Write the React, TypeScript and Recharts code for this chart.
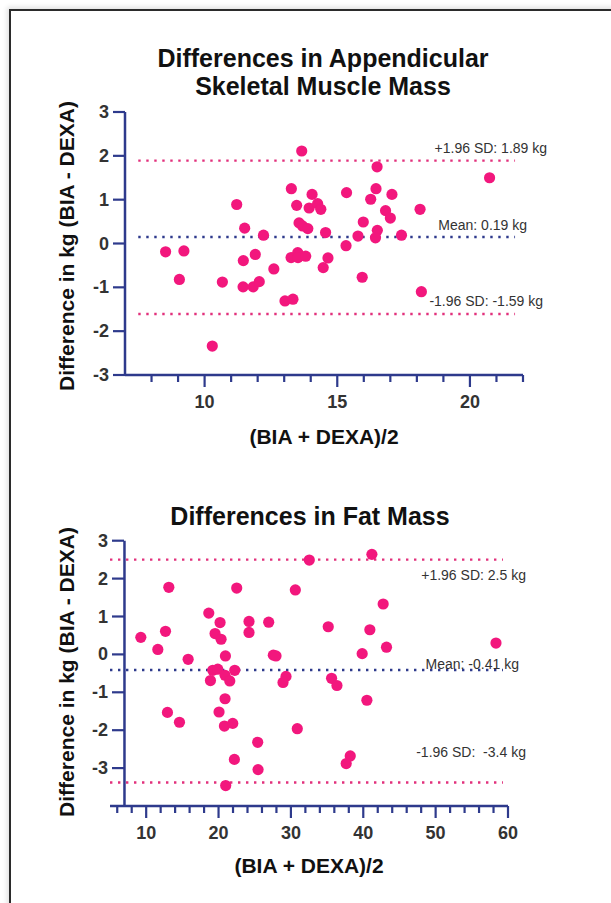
import React from 'react';
import { ScatterChart, Scatter, XAxis, YAxis, ReferenceLine } from 'recharts';

const NAVY = '#2e3a8c';
const PINK = '#f2177d';
const LINE_PINK = '#e2307c';
const TEXT = '#333333';
const FONT = '"Liberation Sans", Arial, Helvetica, sans-serif';

// Appendicular skeletal muscle mass: (BIA + DEXA)/2 and BIA - DEXA, kg
const asmAvg = [
  8.53, 9.22, 9.05, 10.29, 10.67, 11.21, 11.51, 11.46, 11.45, 11.83,
  11.91, 12.06, 12.22, 12.61, 13.03, 13.33, 13.27, 13.47, 13.26, 13.51,
  13.52, 13.81, 13.56, 13.69, 13.89, 13.66, 14.05, 13.94, 14.26, 14.38,
  14.56, 14.65, 14.47, 15.33, 15.35, 15.78, 15.98, 15.94, 16.26, 16.46,
  16.5, 16.51, 16.44, 16.82, 17.0, 17.06, 17.42, 18.12, 18.17, 20.74,
];
const asmDiff = [
  -0.19, -0.17, -0.82, -2.34, -0.88, 0.89, 0.35, -0.39, -0.99, -0.99,
  -0.25, -0.87, 0.19, -0.58, -1.31, -1.27, 1.25, 0.87, -0.32, -0.21,
  -0.32, -0.29, 0.47, 0.4, 0.34, 2.11, 1.12, 0.81, 0.91, 0.78,
  0.25, -0.33, -0.55, -0.05, 1.16, 0.17, 0.49, -0.77, 1.01, 1.25,
  1.75, 0.3, 0.13, 0.75, 0.58, 1.12, 0.19, 0.78, -1.1, 1.5,
];

// Fat mass: (BIA + DEXA)/2 and BIA - DEXA, kg
const fatAvg = [
  9.26, 11.61, 12.67, 13.13, 12.94, 14.6, 15.8, 18.65, 19.52, 20.21,
  20.35, 20.95, 19.2, 19.89, 18.88, 20.9, 21.55, 22.24, 20.9, 20.07,
  20.81, 21.96, 22.51, 24.21, 24.21, 22.19, 20.99, 25.41, 25.46, 26.93,
  27.57, 27.94, 29.32, 28.91, 30.61, 30.88, 32.54, 35.16, 35.62, 36.36,
  38.2, 37.64, 39.85, 40.5, 40.91, 41.19, 42.75, 43.21, 58.34,
];
const fatDiff = [
  0.45, 0.13, 0.61, 1.77, -1.53, -1.79, -0.13, 1.09, 0.55, 0.84,
  0.4, -0.04, -0.42, -0.39, -0.69, -0.55, -0.7, -0.42, -1.17, -1.52,
  -1.89, -1.82, 1.75, 0.87, 0.58, -2.77, -3.46, -2.32, -3.04, 0.85,
  -0.02, -0.04, -0.58, -0.74, 1.7, -1.96, 2.49, 0.73, -0.63, -0.82,
  -2.68, -2.88, 0.02, -1.21, 0.65, 2.64, 1.33, 0.19, 0.3,
];

const asmXTicks = [8, 9, 10, 11, 12, 13, 14, 15, 16, 17, 18, 19, 20, 21, 22];
const asmXMajor = [10, 15, 20];
const asmYTicks = [-3, -2, -1, 0, 1, 2, 3];

const fatXTicks = [6, 8, 10, 12, 14, 16, 18, 20, 22, 24, 26, 28, 30, 32, 34, 36, 38, 40, 42, 44, 46, 48, 50, 52, 54, 56, 58, 60];
const fatXMajor = [10, 20, 30, 40, 50, 60];
const fatYTicks = [-3, -2, -1, 0, 1, 2, 3];

const asmLines = [
  { y: 1.89, label: '+1.96 SD: 1.89 kg', mean: false, dx: 32, dy: -8 },
  { y: 0.15, label: 'Mean: 0.19 kg', mean: true, dx: 12, dy: -7 },
  { y: -1.61, label: '-1.96 SD: -1.59 kg', mean: false, dx: 28, dy: -8 },
];
const fatLines = [
  { y: 2.5, label: '+1.96 SD: 2.5 kg', mean: false, dx: 23, dy: 20 },
  { y: -0.41, label: 'Mean: -0.41 kg', mean: true, dx: 16, dy: -1 },
  { y: -3.38, label: '-1.96 SD:\u00a0 -3.4 kg', mean: false, dx: 23, dy: -26 },
];

const asmData = asmAvg.map((x, i) => ({ x, y: asmDiff[i] }));
const fatData = fatAvg.map((x, i) => ({ x, y: fatDiff[i] }));

function Dot(props: any) {
  const { cx, cy } = props;
  return <circle cx={cx} cy={cy} r={5.6} fill={PINK} />;
}

function XTick({ x, y, payload, major }: any) {
  const isMajor = major.includes(payload.value);
  return (
    <g>
      <line x1={x} x2={x} y1={y} y2={y + (isMajor ? 12 : 7)} stroke={NAVY} strokeWidth={2.2} />
      {isMajor && (
        <text x={x} y={y + 27} textAnchor="middle" dominantBaseline="central"
          fontFamily={FONT} fontWeight="bold" fontSize={18} fill={TEXT}>
          {payload.value}
        </text>
      )}
    </g>
  );
}

function YTick({ x, y, payload, from, to, textX }: any) {
  return (
    <g>
      <line x1={x + from} x2={x + to} y1={y} y2={y} stroke={NAVY} strokeWidth={2.2} />
      <text x={x + textX} y={y} textAnchor="end" dominantBaseline="central"
        fontFamily={FONT} fontWeight="bold" fontSize={18} fill={TEXT}>
        {payload.value}
      </text>
    </g>
  );
}

function LimitLabel({ viewBox, text, dx, dy }: any) {
  if (!viewBox) return null;
  return (
    <text x={viewBox.x + viewBox.width + dx} y={viewBox.y + dy} textAnchor="end"
      fontFamily={FONT} fontSize={14} fill={TEXT}>
      {text}
    </text>
  );
}

function limitLines(lines: typeof asmLines, x1: number, x2: number) {
  return lines.map((l) => (
    <ReferenceLine
      key={l.label}
      segment={[{ x: x1, y: l.y }, { x: x2, y: l.y }]}
      stroke={l.mean ? NAVY : LINE_PINK}
      strokeWidth={2.4}
      strokeDasharray="2.4 5.6"
      label={<LimitLabel text={l.label} dx={l.dx} dy={l.dy} />}
    />
  ));
}

const titleStyle: React.CSSProperties = {
  position: 'absolute',
  fontFamily: FONT,
  fontWeight: 'bold',
  fontSize: 25,
  lineHeight: '28px',
  color: '#111',
  textAlign: 'center',
  transform: 'translateX(-50%)',
  whiteSpace: 'nowrap',
};

const axisTitle: React.CSSProperties = {
  position: 'absolute',
  fontFamily: FONT,
  fontWeight: 'bold',
  fontSize: 21,
  color: '#111',
  whiteSpace: 'nowrap',
  transform: 'translate(-50%, -50%)',
};

export default function App() {
  return (
    <div style={{ position: 'absolute', left: 0, top: 0, width: 611, height: 903, background: '#fff', overflow: 'hidden' }}>
      <div style={{ position: 'absolute', left: 9, top: 9, width: 800, height: 1000, borderLeft: '2px solid #2b2b2b', borderTop: '2px solid #2b2b2b', boxShadow: '-2px -2px 5px rgba(0,0,0,0.12)' }} />

      <div style={{ ...titleStyle, left: 323, top: 44 }}>
        Differences in Appendicular<br />Skeletal Muscle Mass
      </div>
      <div style={{ ...axisTitle, left: 67, top: 246, transform: 'translate(-50%, -50%) rotate(-90deg)' }}>
        Difference in kg (BIA - DEXA)
      </div>
      <div style={{ ...axisTitle, left: 324, top: 437 }}>(BIA + DEXA)/2</div>

      <div style={{ position: 'absolute', left: 0, top: 0 }}>
        <ScatterChart width={611} height={470} margin={{ top: 112, right: 88, bottom: 0, left: 0 }}>
          <XAxis type="number" dataKey="x" domain={[7, 22]} ticks={asmXTicks} interval={0}
            height={95} tickSize={0} tickMargin={0} tickLine={false}
            axisLine={{ stroke: NAVY, strokeWidth: 2.5 }}
            tick={(p: any) => <XTick {...p} major={asmXMajor} />} />
          <YAxis type="number" dataKey="y" domain={[-3, 3]} ticks={asmYTicks} interval={0}
            width={125} tickSize={0} tickMargin={0} tickLine={false}
            axisLine={{ stroke: NAVY, strokeWidth: 2.5 }}
            tick={(p: any) => <YTick {...p} from={-12} to={0} textX={-16} />} />
          {limitLines(asmLines, 7.5, 21.7)}
          <Scatter data={asmData} shape={<Dot />} isAnimationActive={false} />
        </ScatterChart>
      </div>

      <div style={{ ...titleStyle, left: 310, top: 502 }}>Differences in Fat Mass</div>
      <div style={{ ...axisTitle, left: 67, top: 672, transform: 'translate(-50%, -50%) rotate(-90deg)' }}>
        Difference in kg (BIA - DEXA)
      </div>
      <div style={{ ...axisTitle, left: 309, top: 866 }}>(BIA + DEXA)/2</div>

      <div style={{ position: 'absolute', left: 0, top: 470 }}>
        <ScatterChart width={611} height={433} margin={{ top: 70.7, right: 103, bottom: 0, left: 0 }}>
          <XAxis type="number" dataKey="x" domain={[5, 60]} ticks={fatXTicks} interval={0}
            height={97} tickSize={0} tickMargin={0} tickLine={false}
            axisLine={{ stroke: NAVY, strokeWidth: 2.5 }}
            tick={(p: any) => <XTick {...p} major={fatXMajor} />} />
          <YAxis type="number" dataKey="y" domain={[-4, 3]} ticks={fatYTicks} interval={0}
            width={110} tickSize={0} tickMargin={0} tickLine={false} axisLine={false}
            tick={(p: any) => <YTick {...p} from={2} to={14} textX={-2} />} />
          <ReferenceLine segment={[{ x: 7, y: -4 }, { x: 7, y: 3 }]} stroke={NAVY} strokeWidth={2.5} />
          {limitLines(fatLines, 5, 59.3)}
          <Scatter data={fatData} shape={<Dot />} isAnimationActive={false} />
        </ScatterChart>
      </div>
    </div>
  );
}
